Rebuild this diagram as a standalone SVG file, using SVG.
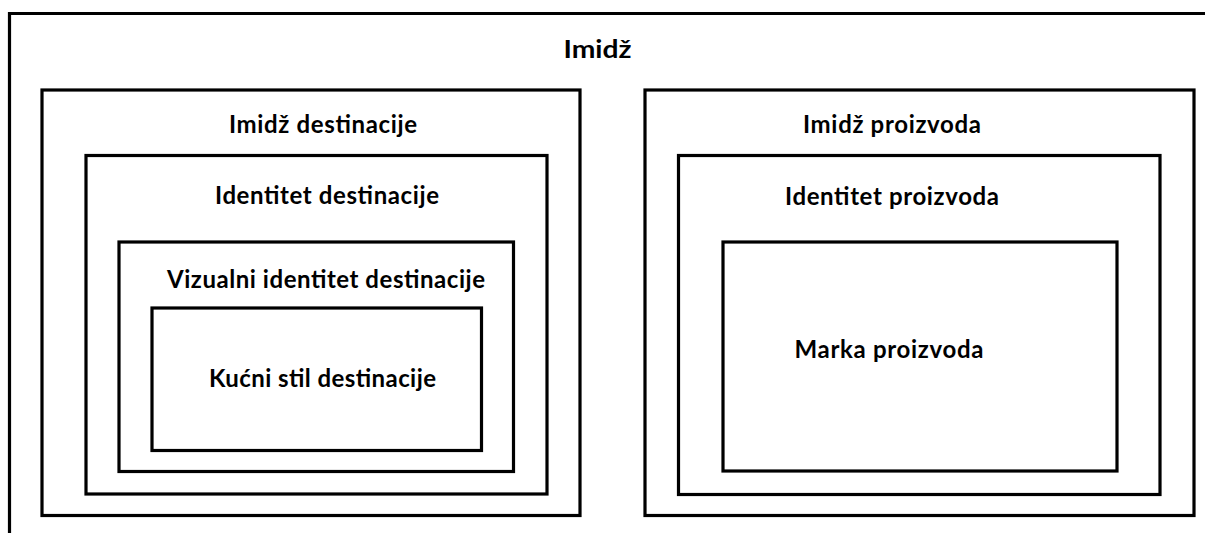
<svg xmlns="http://www.w3.org/2000/svg" width="1205" height="533" viewBox="0 0 1205 533">
  <style>
    .box { fill: none; stroke: #000; stroke-width: 3.2; }
    .lbl { font-family: Lato, "Open Sans", "Liberation Sans", sans-serif; font-weight: bold; font-size: 24px; fill: #000; text-anchor: middle; }
  </style>
  <rect x="0" y="0" width="1205" height="533" fill="#fff"/>

  <!-- outermost frame, runs past the right and bottom edges -->
  <g id="imidz">
    <path class="box" d="M9.5,540 V13.5 H1210"/>
    <text class="lbl" x="597.5" y="58" font-size="25" textLength="68" lengthAdjust="spacingAndGlyphs">Imidž</text>
  </g>

  <!-- left column: destination -->
  <g id="imidz-destinacije">
    <rect class="box" x="42" y="90" width="538" height="425.5"/>
    <text class="lbl" x="323" y="133" textLength="188">Imidž destinacije</text>
  </g>
  <g id="identitet-destinacije">
    <rect class="box" x="86" y="155.5" width="461" height="338.5"/>
    <text class="lbl" x="327" y="204" textLength="224">Identitet destinacije</text>
  </g>
  <g id="vizualni-identitet-destinacije">
    <rect class="box" x="119" y="242" width="394.5" height="229.5"/>
    <text class="lbl" x="326" y="288" textLength="318">Vizualni identitet destinacije</text>
  </g>
  <g id="kucni-stil-destinacije">
    <rect class="box" x="152" y="308" width="329.5" height="142.5"/>
    <text class="lbl" x="322.5" y="387" textLength="227">Kućni stil destinacije</text>
  </g>

  <!-- right column: product -->
  <g id="imidz-proizvoda">
    <rect class="box" x="645" y="90" width="549" height="425.5"/>
    <text class="lbl" x="892" y="133" textLength="178">Imidž proizvoda</text>
  </g>
  <g id="identitet-proizvoda">
    <rect class="box" x="678.5" y="155.5" width="481.5" height="339"/>
    <text class="lbl" x="892" y="205" textLength="214">Identitet proizvoda</text>
  </g>
  <g id="marka-proizvoda">
    <rect class="box" x="723" y="242" width="394" height="229"/>
    <text class="lbl" x="889" y="358" textLength="189">Marka proizvoda</text>
  </g>
</svg>
